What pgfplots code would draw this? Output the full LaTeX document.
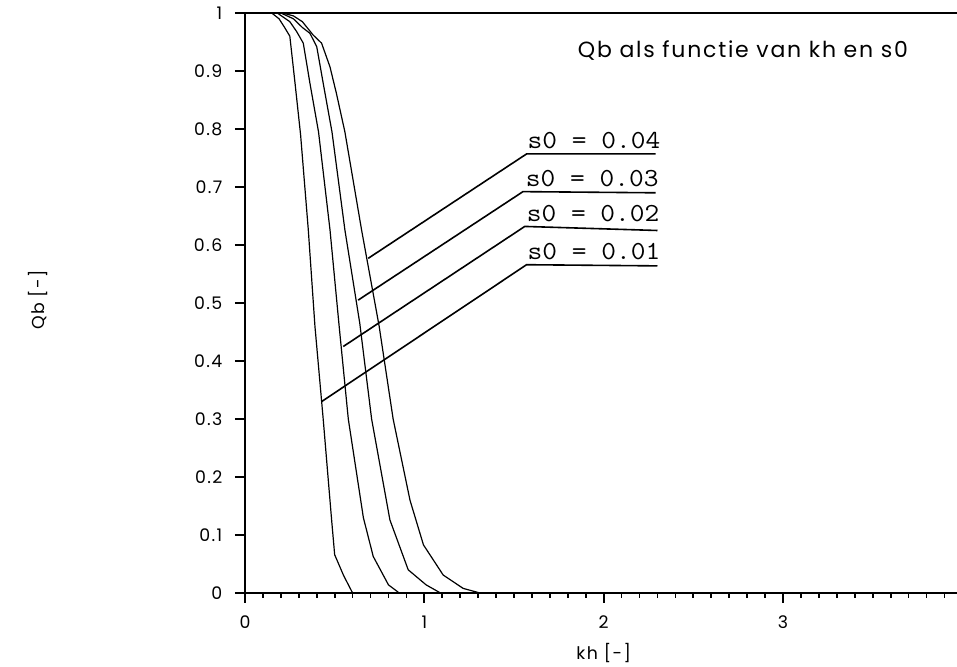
\documentclass[border=0pt]{standalone}
\usepackage{pgfplots}
\pgfplotsset{compat=1.18}
\usepackage{graphicx}
\usepackage{fontspec}
\setmainfont{Poppins}
\newfontfamily\widefont[LetterSpace=8]{Poppins}
\newcommand{\slab}[1]{\scalebox{1.1}[1]{\ttfamily\fontsize{19.5}{20}\selectfont #1}}

\begin{document}
\begin{tikzpicture}
\begin{axis}[name=ax, scale only axis, width=534pt, height=435pt,
  xmin=0, xmax=3.97, ymin=0, ymax=1, clip=false,
  axis x line*=bottom, axis y line*=left,
  axis line style={line width=2.2pt, -},
  xtick={0,1,2,3}, xticklabels={0,1,2,3},
  minor xtick={0.1,0.2,...,3.95},
  ytick={0,0.1,0.2,0.3,0.4,0.5,0.6,0.7,0.8,0.9,1},
  yticklabels={0,0.1,0.2,0.3,0.4,0.5,0.6,0.7,0.8,0.9,1},
  tick align=outside,
  major tick length=7.5pt, minor tick length=3.75pt,
  every tick/.style={black, line width=1.3pt},
  tick label style={font=\widefont\fontsize{13}{14}\selectfont},
  yticklabel style={xshift=-6pt},
  xticklabel style={yshift=-6pt},
]
% top line
\addplot[black, line width=2.2pt] coordinates {(0,1) (3.97,1)};
% s0 = 0.01
\addplot[black, line width=0.9pt] coordinates {
(0,1)(0.149,1)(0.19,0.99)(0.223,0.974)(0.25,0.96)(0.279,0.879)(0.31,0.79)
(0.353,0.626)(0.39,0.46)(0.436,0.30)(0.483,0.126)(0.50,0.066)(0.55,0.03)(0.60,0)};
% s0 = 0.02
\addplot[black, line width=0.9pt] coordinates {
(0,1)(0.18,1)(0.25,0.985)(0.288,0.968)(0.325,0.948)(0.362,0.879)(0.41,0.795)
(0.474,0.626)(0.525,0.46)(0.576,0.30)(0.66,0.13)(0.715,0.063)(0.80,0.014)(0.86,0)};
% s0 = 0.03
\addplot[black, line width=0.9pt] coordinates {
(0,1)(0.20,1)(0.27,0.99)(0.32,0.975)(0.362,0.965)(0.40,0.942)(0.436,0.879)
(0.485,0.795)(0.557,0.626)(0.64,0.465)(0.706,0.30)(0.808,0.126)(0.91,0.04)(1.01,0.014)(1.09,0)};
% s0 = 0.04
\addplot[black, line width=0.9pt] coordinates {
(0,1)(0.21,1)(0.27,0.995)(0.32,0.985)(0.38,0.962)(0.427,0.948)(0.474,0.907)
(0.51,0.861)(0.557,0.795)(0.65,0.626)(0.748,0.46)(0.826,0.30)(0.92,0.16)(0.995,0.083)
(1.105,0.031)(1.216,0.008)(1.31,0)};
% leader lines
\addplot[black, line width=1.2pt] coordinates {(0.687,0.577)(1.57,0.757)(2.29,0.757)};
\addplot[black, line width=1.2pt] coordinates {(0.631,0.505)(1.55,0.692)(2.29,0.690)};
\addplot[black, line width=1.2pt] coordinates {(0.548,0.425)(1.56,0.632)(2.30,0.625)};
\addplot[black, line width=1.2pt] coordinates {(0.427,0.330)(1.57,0.566)(2.30,0.564)};
% labels
\node[anchor=south west, inner sep=0pt] at (axis cs:1.575,0.765) {\slab{s0 = 0.04}};
\node[anchor=south west, inner sep=0pt] at (axis cs:1.565,0.700) {\slab{s0 = 0.03}};
\node[anchor=south west, inner sep=0pt] at (axis cs:1.57,0.640) {\slab{s0 = 0.02}};
\node[anchor=south west, inner sep=0pt] at (axis cs:1.575,0.574) {\slab{s0 = 0.01}};
\node[anchor=base west, inner sep=0pt, font=\widefont\fontsize{16.5}{18}\selectfont] at (axis cs:1.855,0.924) {Qb als functie van kh en s0};
\node[anchor=center, inner sep=0pt, font=\widefont\fontsize{13}{14}\selectfont] at (axis cs:2.0,-0.104) {kh [-]};
\node[anchor=center, inner sep=0pt, rotate=90, font=\widefont\fontsize{13}{14}\selectfont] at (axis cs:-1.153,0.505) {Qb [-]};
\end{axis}
\pgfresetboundingbox
\path[use as bounding box] ([xshift=-183.75pt, yshift=-55.5pt]ax.south west) rectangle ([yshift=9.75pt]ax.north east);
\end{tikzpicture}
\end{document}
